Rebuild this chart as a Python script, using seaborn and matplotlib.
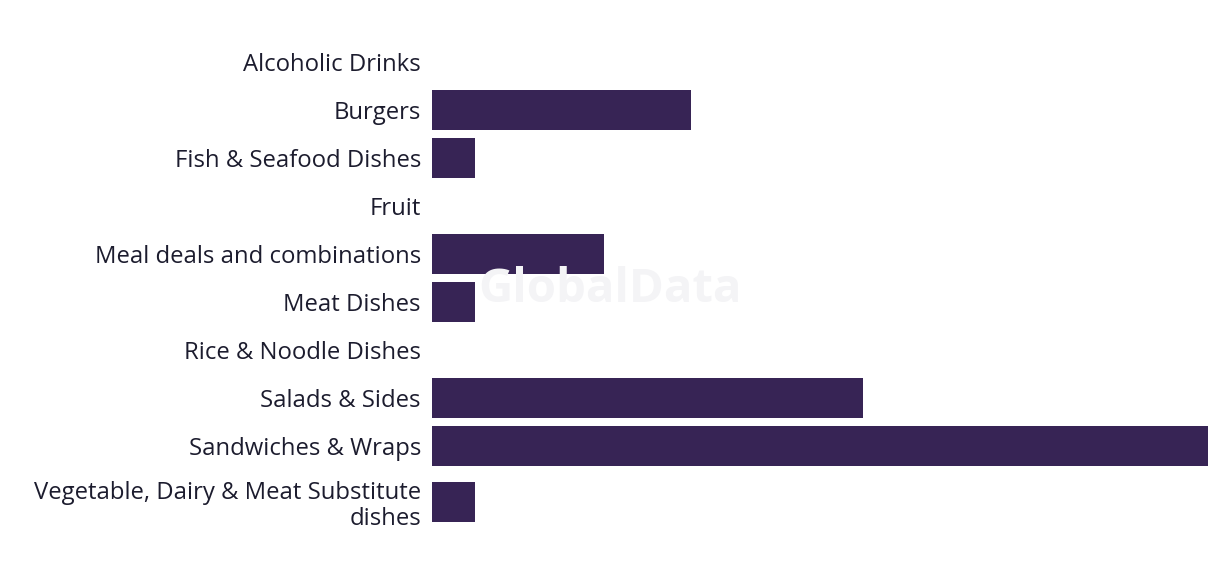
import matplotlib
matplotlib.use("Agg")
import matplotlib.pyplot as plt
import seaborn as sns
import pandas as pd
import numpy as np

categories = ["Alcoholic Drinks", "Burgers", "Fish & Seafood Dishes", "Fruit",
              "Meal deals and combinations", "Meat Dishes", "Rice & Noodle Dishes",
              "Salads & Sides", "Sandwiches & Wraps",
              "Vegetable, Dairy & Meat Substitute\ndishes"]
values = [0, 6, 1, 0, 4, 1, 0, 10, 18, 1]

sns.set_theme(style="white")
plt.rcParams['font.family'] = ['Open Sans', 'DejaVu Sans']

# row layout: each band is one unit tall, plus extra room for wrapped labels
n_lines = np.array([c.count("\n") + 1 for c in categories])
band = 1 + (n_lines - 1) / 3
edges = np.concatenate([[0], np.cumsum(band)])
pos = edges[:-1] + band / 2

df = pd.DataFrame({"category": categories, "value": values, "pos": pos})

fig = plt.figure(figsize=(12.2, 5.74), dpi=100)
unit = 48  # px per band unit
top_px = 62 - unit / 2
bottom_px = top_px + edges[-1] * unit
ax = fig.add_axes([432/1220, 1 - bottom_px/574, (1208-432)/1220, (bottom_px - top_px)/574])
sns.barplot(data=df, x="value", y="pos", color="#372455", saturation=1,
            native_scale=True, orient="h", width=40/48, linewidth=0, ax=ax)
ax.set_xlim(0, 18)
ax.set_ylim(edges[-1], 0)
ax.set_yticks(pos)
ax.set_yticklabels(categories)
ax.set_xlabel("")
ax.set_ylabel("")
ax.set_xticks([])
for s in ax.spines.values():
    s.set_visible(False)
ax.tick_params(axis="y", length=0, pad=8, labelsize=17.2, labelcolor="#1c1c2e")
for lbl in ax.get_yticklabels():
    lbl.set_horizontalalignment("right")
    lbl.set_linespacing(1.1)
fig.text(610/1220, 1-290/574, "GlobalData", ha="center", va="center",
         fontsize=34, fontweight="bold", color="#f4f4f6", zorder=0)
fig.savefig("out.png", dpi=100)
